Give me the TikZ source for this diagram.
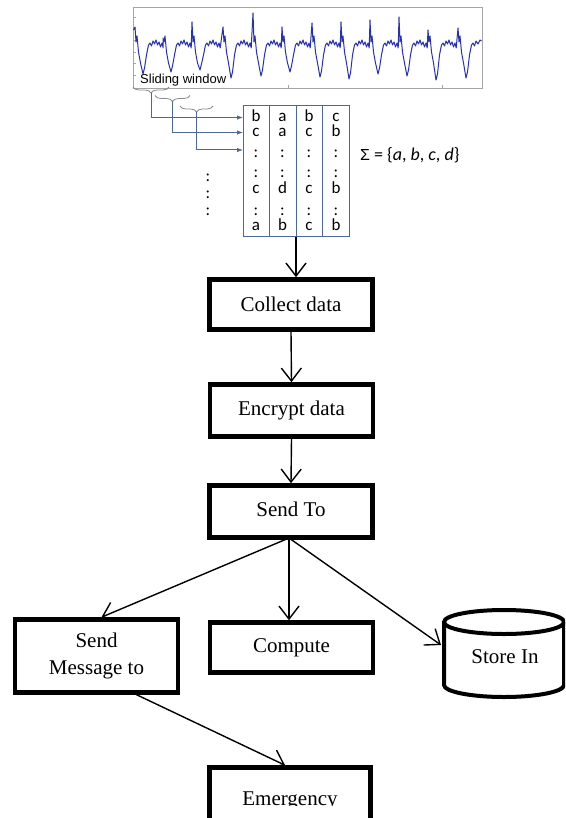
\documentclass[tikz,border=0pt]{standalone}
\usepackage{fontspec}
\setmainfont{Liberation Serif}
\newfontfamily\calib{Carlito}
\newfontfamily\arialf{Liberation Sans}
\usetikzlibrary{arrows.meta,decorations.pathreplacing,calc}
\definecolor{sigblue}{RGB}{40,50,175}
\definecolor{matblue}{RGB}{75,105,150}
\definecolor{framegray}{RGB}{165,165,165}
\definecolor{bracegray}{RGB}{140,140,140}
\begin{document}
\begin{tikzpicture}[x=1pt,y=-1pt,
  fbox/.style={draw, line width=4.6pt, minimum width=163pt, inner sep=0pt, align=center,
    font=\fontsize{21}{27}\selectfont},
  arr/.style={line width=1.4pt, -{Straight Barb[length=13pt,width=20pt,line width=1.4pt]}},
  barr/.style={matblue, line width=1pt, -{Latex[length=6pt,width=4.5pt]}},
  brc/.style={bracegray, line width=0.8pt, decorate, decoration={brace, mirror, amplitude=6pt}},
  mtext/.style={anchor=base, inner sep=0pt, font=\calib\fontsize{17}{18}\selectfont},
  ptext/.style={anchor=base, inner sep=0pt, font=\fontsize{21}{27}\selectfont}]
\clip (0,0) rectangle (565,818);
\fill[white] (0,0) rectangle (565,818);

% ---- signal window ----
\draw[framegray, line width=0.8pt] (133,7) rectangle (482,88);
\foreach \yy in {17,28,40,52,63,75} \draw[framegray, line width=0.6pt] (133,\yy) -- (136,\yy);
\foreach \xx in {288,442} \draw[framegray, line width=0.6pt] (\xx,88) -- (\xx,85);
\draw[sigblue, line width=1pt, line join=round] (133.5,30)
  \foreach \s/\t/\d in {135/27/74,163/38/72,192/22/70,223/27/78,253/13/76,282/27/72,312/23/77,341/22/79,370/20/74,399/17/76,428/30/80} {
    -- (\s,\t) -- (\s+1,42) -- (\s+2,36) -- (\s+3.5,52) -- (\s+5.5,63) -- (\s+8,\d) -- (\s+9.5,\d-6) -- (\s+11.5,55)
    -- (\s+13.5,45) -- (\s+15,43) -- (\s+16.5,46) -- (\s+18,41) -- (\s+19.5,44) -- (\s+21,40) -- (\s+22.5,45)
    -- (\s+24,42) -- (\s+25.5,47) -- (\s+27,43) -- (\s+28.2,48)
  }
  -- (458,28) -- (459,42) -- (460,36) -- (461.5,52) -- (463.5,63) -- (466,78) -- (467.5,72) -- (469.5,55)
  -- (471.5,45) -- (473,43) -- (474.5,46) -- (476,41) -- (478,44) -- (480,40) -- (481.5,41);
\node[anchor=base west, inner sep=0pt, font=\arialf\fontsize{13}{15}\selectfont] (sw) at (140,83.5) {Sliding window};

% ---- braces and blue arrows ----
\draw[brc] (133,87) -- (169,87);
\draw[brc] (155,95.5) -- (190,95.5);
\draw[brc] (180,106) -- (213,106);
\coordinate (t1) at (151,93);
\coordinate (t2) at (172.5,101.5);
\coordinate (t3) at (196.5,112);
\coordinate (e1) at (243,117.5);
\coordinate (e2) at (243,132.5);
\coordinate (e3) at (243,150);
\draw[barr] (t1) |- (e1);
\draw[barr] (t2) |- (e2);
\draw[barr] (t3) |- (e3);

% ---- symbol matrix ----
\node[draw=matblue, line width=1pt, minimum width=106pt, minimum height=130pt, inner sep=0pt] (mat) at (296,171) {};
\foreach \xx in {269.5,296,322.5} \draw[matblue, line width=1pt] (\xx,106) -- (\xx,236);
\foreach \yy/\ra/\rb/\rc/\rd [count=\i] in {121.5/b/a/b/c, 137/c/a/c/b, 158/:/:/:/:, 178/:/:/:/:, 193.5/c/d/c/b, 215/:/:/:/:, 230.5/a/b/c/b} {
  \node[mtext] (m\i-1) at (256,\yy) {\ra};
  \node[mtext] (m\i-2) at (282.5,\yy) {\rb};
  \node[mtext] (m\i-3) at (309,\yy) {\rc};
  \node[mtext] (m\i-4) at (336,\yy) {\rd};
}
\node[mtext] (d1) at (208,182) {:};
\node[mtext] (d2) at (208,199) {:};
\node[mtext] (d3) at (208,215) {:};
\node[anchor=base west, inner sep=0pt, font=\calib\fontsize{18}{20}\selectfont] (sigma) at (360,161)
  {{\arialf\fontsize{16}{20}\selectfont Σ} = \{\textit{a}, \textit{b}, \textit{c}, \textit{d}\}};

% ---- flow chart ----
\node[fbox, minimum height=50pt] (collect) at (291,304.5) {Collect data};
\node[fbox, minimum height=52pt] (encrypt) at (291.5,410.5) {Encrypt data};
\node[fbox, minimum height=52pt] (sendto) at (291,511.5) {\raisebox{4pt}{Send To}};
\node[fbox, minimum height=73pt] (msg) at (96.5,656) {Send\\Message to};
\node[fbox, minimum height=50pt] (compute) at (291.5,647.5) {Compute};
\node[fbox, minimum width=161pt, minimum height=80pt] (emerg) at (290,807.5) {};
\begin{scope}
  \clip (200,770) rectangle (380,805.5);
  \node[ptext] (emtxt) at (290,805.5) {Emergency};
\end{scope}

% cylinder
\draw[line width=4pt] (504,622) ellipse [x radius=60, y radius=12];
\draw[line width=4pt] (444,622) -- (444,685) arc[start angle=180, end angle=0, x radius=60, y radius=12] -- (564,622);
\node[ptext] (storetxt) at (505,663) {Store In};
\coordinate (storeW) at (441,645);

% connectors
\draw[arr] (mat.south) -- (mat.south |- collect.north);
\draw[arr] (collect.south) -- (encrypt.north);
\draw[arr] (encrypt.south) -- (sendto.north);
\coordinate (fork) at (289,538);
\draw[arr] (fork) -- ($(msg.north)+(5,0)$);
\draw[arr] (fork) -- (fork |- compute.north);
\draw[arr] (fork) -- (storeW);
\coordinate (msgout) at (133,693);
\draw[arr] (msgout) -- ($(emerg.north)+(-5,0)$);
\end{tikzpicture}
\end{document}
